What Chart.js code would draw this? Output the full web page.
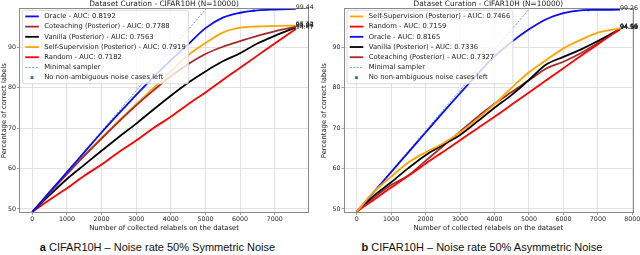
<!DOCTYPE html>
<html>
<head>
<meta charset="utf-8">
<script src="https://cdn.jsdelivr.net/npm/chart.js@4.4.1/dist/chart.umd.min.js"></script>
<style>
  html, body { margin: 0; padding: 0; background: #fff; overflow: hidden; }
  body { width: 640px; height: 255px; position: relative; font-family: "Liberation Sans", Arial, sans-serif; }
  canvas { position: absolute; top: 0; }
  #symChart { left: 0; }
  #asymChart { left: 320px; }
  .caption { position: absolute; top: 242px; font-size: 11px; line-height: 11px; white-space: nowrap; text-align: center; color: #111; }
</style>
</head>
<body>
<canvas id="symChart" width="320" height="235"></canvas>
<canvas id="asymChart" width="322" height="235"></canvas>
<div class="caption" style="left:0;width:315px"><b>a</b> CIFAR10H – Noise rate 50% Symmetric Noise</div>
<div class="caption" style="left:320px;width:324px"><b>b</b> CIFAR10H – Noise rate 50% Asymmetric Noise</div>

<script>
const chartTitle = "Dataset Curation - CIFAR10H (N=10000)";
const xTitle = "Number of collected relabels on the dataset";
const yTitle = "Percentage of correct labels";
const yTicks = [50, 60, 70, 80, 90];

// a) symmetric noise
const symTicks = [0, 1000, 2000, 3000, 4000, 5000, 6000, 7000];
const symX = [0, 500, 1000, 1500, 2000, 2500, 3000, 3500, 4000, 4500, 5000, 5500, 6000, 6500, 7000, 7610];
const symOracle = [49.26, 54.2, 59.1, 64.0, 68.9, 73.6, 78.2, 82.6, 86.8, 90.7, 94.7, 97.3, 98.5, 99.1, 99.3, 99.44];
const symCoteaching = [49.26, 54.0, 58.6, 63.1, 67.4, 71.6, 75.6, 79.3, 82.8, 85.8, 88.3, 90.1, 91.5, 92.8, 93.9, 95.06];
const symVanilla = [49.26, 53.4, 57.4, 60.9, 64.4, 67.8, 71.1, 74.6, 78.0, 81.2, 84.0, 86.5, 88.5, 90.9, 92.8, 94.87];
const symSelfSup = [49.26, 54.0, 58.7, 63.3, 67.6, 71.8, 75.9, 79.9, 84.0, 88.0, 91.0, 93.6, 94.8, 95.1, 95.25, 95.32];
const symRandom = [49.26, 52.3, 55.1, 58.2, 61.0, 64.1, 66.9, 70.0, 72.8, 75.9, 78.8, 81.9, 84.9, 87.9, 90.9, 94.47];
const symMinimalX = [0, 5200];
const symMinimalY = [49.26, 101.26];
const symDoneX = [6390];
const symDoneY = [99.04];

// b) asymmetric noise
const asymTicks = [0, 1000, 2000, 3000, 4000, 5000, 6000, 7000, 8000];
const asymX = [0, 500, 1000, 1500, 2000, 2500, 3000, 3500, 4000, 4500, 5000, 5500, 6000, 6500, 7000, 7643];
const asymSelfSup = [49.35, 54.2, 58.0, 61.5, 64.0, 66.2, 68.9, 72.2, 75.9, 80.0, 83.8, 86.8, 89.7, 91.8, 93.6, 94.66];
const asymRandom = [49.35, 52.3, 55.3, 58.2, 61.2, 64.1, 67.0, 69.9, 72.8, 75.8, 78.8, 81.8, 84.8, 87.8, 90.7, 94.58];
const asymOracle = [49.35, 54.2, 59.1, 64.0, 68.9, 73.8, 78.6, 83.3, 87.7, 91.3, 94.4, 96.9, 98.4, 99.1, 99.2, 99.26];
const asymVanilla = [49.35, 53.3, 56.6, 60.1, 63.3, 65.8, 68.3, 71.6, 75.0, 78.2, 81.9, 85.7, 87.6, 89.4, 91.5, 94.50];
const asymCoteaching = [49.35, 52.8, 55.9, 58.3, 61.9, 65.5, 69.1, 72.7, 76.0, 78.9, 81.8, 84.7, 86.4, 88.5, 91.0, 94.39];
const asymMinimalX = [0, 5200];
const asymMinimalY = [49.35, 101.35];
const asymDoneX = [6720];
const asymDoneY = [99.14];

const FONT = "DejaVu Sans";
Chart.defaults.font.family = FONT;
Chart.defaults.color = "#222";

function points(xs, ys) {
  return xs.map((x, i) => ({ x: x, y: ys[i] }));
}

function curve(label, xs, ys, color) {
  return {
    label: label,
    data: points(xs, ys),
    borderColor: color,
    backgroundColor: color,
    borderWidth: 1.8,
    pointRadius: 0,
    cubicInterpolationMode: "monotone",
    endLabel: true
  };
}

function minimal(xs, ys) {
  return {
    label: "Minimal sampler",
    data: points(xs, ys),
    borderColor: "#5d9fd8",
    borderWidth: 1,
    borderDash: [2, 1.5],
    pointRadius: 0
  };
}

function doneMarker(xs, ys) {
  return {
    label: "No non-ambiguous noise cases left",
    data: points(xs, ys),
    showLine: false,
    pointStyle: "rect",
    pointRadius: 1.6,
    borderWidth: 0,
    backgroundColor: "#2b6fc8",
    marker: true
  };
}

// title, frame, legend box and end-of-line values, drawn like matplotlib
const decor = {
  id: "decor",
  afterDatasetsDraw(chart) {
    const ctx = chart.ctx;
    const a = chart.chartArea;
    ctx.save();

    ctx.strokeStyle = "#8a8a8a";
    ctx.lineWidth = 1;
    ctx.strokeRect(Math.round(a.left) + 0.5, Math.round(a.top) + 0.5,
      Math.round(a.right - a.left) - 1, Math.round(a.bottom - a.top) - 1);

    ctx.fillStyle = "#222";
    ctx.font = "7.4px '" + FONT + "'";
    ctx.textAlign = "center";
    ctx.textBaseline = "alphabetic";
    ctx.fillText(chartTitle, (a.left + a.right) / 2, 6);

    // values at the end of each curve
    ctx.font = "6.3px '" + FONT + "'";
    ctx.textAlign = "left";
    chart.data.datasets.forEach((ds, i) => {
      if (!ds.endLabel) return;
      const pts = chart.getDatasetMeta(i).data;
      const last = pts[pts.length - 1];
      ctx.fillText(ds.data[ds.data.length - 1].y.toFixed(2), last.x, last.y);
    });

    // legend
    const fs = 6.8;
    ctx.font = fs + "px '" + FONT + "'";
    const sets = chart.data.datasets;
    let textW = 0;
    sets.forEach(ds => { textW = Math.max(textW, ctx.measureText(ds.label).width); });
    const pad = 0.4 * fs, handle = 2 * fs, gap = 0.8 * fs, row = 1.5 * fs;
    const bx = a.left + 3.5, by = a.top + 2;
    const bw = pad + handle + gap + textW + pad;
    const bh = pad * 2 + row * sets.length - 0.5 * fs;
    ctx.beginPath();
    ctx.roundRect(bx, by, bw, bh, 2);
    ctx.fillStyle = "rgba(255,255,255,0.8)";
    ctx.fill();
    ctx.strokeStyle = "#d0d0d0";
    ctx.lineWidth = 0.8;
    ctx.stroke();

    ctx.textBaseline = "middle";
    sets.forEach((ds, i) => {
      const cy = by + pad + fs / 2 + i * row;
      const hx = bx + pad;
      if (ds.marker) {
        ctx.fillStyle = ds.backgroundColor;
        ctx.fillRect(hx + handle / 2 - 1.4, cy - 1.4, 2.8, 2.8);
      } else {
        ctx.strokeStyle = ds.borderColor;
        ctx.lineWidth = ds.borderWidth;
        ctx.setLineDash(ds.borderDash || []);
        ctx.beginPath();
        ctx.moveTo(hx, cy);
        ctx.lineTo(hx + handle, cy);
        ctx.stroke();
        ctx.setLineDash([]);
      }
      ctx.fillStyle = "#222";
      ctx.fillText(ds.label, hx + handle + gap, cy);
    });

    ctx.restore();
  }
};

function makeChart(id, datasets, xMin, xMax, xTickVals, yWidth, padRight) {
  return new Chart(document.getElementById(id), {
    type: "line",
    data: { datasets: datasets },
    plugins: [decor],
    options: {
      responsive: false,
      animation: false,
      layout: { padding: { left: 0, right: padRight, top: 8.3, bottom: 0 } },
      plugins: { legend: { display: false }, tooltip: { enabled: false } },
      scales: {
        x: {
          type: "linear",
          min: xMin,
          max: xMax,
          afterBuildTicks: s => { s.ticks = xTickVals.map(v => ({ value: v })); },
          afterFit: s => { s.height = 22; s.paddingLeft = 0; s.paddingRight = 0; },
          ticks: { font: { size: 6.3 }, padding: 1, maxRotation: 0, autoSkip: false, callback: v => String(v) },
          grid: { color: "#dadada", lineWidth: 0.8, tickLength: 2, tickColor: "#8a8a8a" },
          border: { display: false },
          title: { display: true, text: xTitle, font: { size: 6.8 }, color: "#111", padding: { top: 0, bottom: 2.9 } }
        },
        y: {
          min: 49.0,
          max: 99.6,
          afterBuildTicks: s => { s.ticks = yTicks.map(v => ({ value: v })); },
          afterFit: s => { s.width = yWidth; s.paddingTop = 0; s.paddingBottom = 0; },
          ticks: { font: { size: 6.3 }, padding: 1, callback: v => String(v) },
          grid: { color: "#dadada", lineWidth: 0.8, tickLength: 2, tickColor: "#8a8a8a" },
          border: { display: false },
          title: { display: true, text: yTitle, font: { size: 6.8 }, color: "#111", padding: { top: 0, bottom: 0 } }
        }
      }
    }
  });
}

makeChart("symChart", [
  curve("Oracle - AUC: 0.8192", symX, symOracle, "#0a0aff"),
  curve("Coteaching (Posterior) - AUC: 0.7788", symX, symCoteaching, "#a52a2a"),
  curve("Vanilla (Posterior) - AUC: 0.7563", symX, symVanilla, "#000000"),
  curve("Self-Supervision (Posterior) - AUC: 0.7919", symX, symSelfSup, "#ffa500"),
  curve("Random - AUC: 0.7182", symX, symRandom, "#ff0000"),
  minimal(symMinimalX, symMinimalY),
  doneMarker(symDoneX, symDoneY)
], -384, 7990, symTicks, 19, 11);

makeChart("asymChart", [
  curve("Self-Supervision (Posterior) - AUC: 0.7466", asymX, asymSelfSup, "#ffa500"),
  curve("Random - AUC: 0.7159", asymX, asymRandom, "#ff0000"),
  curve("Oracle - AUC: 0.8165", asymX, asymOracle, "#0a0aff"),
  curve("Vanilla (Posterior) - AUC: 0.7336", asymX, asymVanilla, "#000000"),
  curve("Coteaching (Posterior) - AUC: 0.7327", asymX, asymCoteaching, "#a52a2a"),
  minimal(asymMinimalX, asymMinimalY),
  doneMarker(asymDoneX, asymDoneY)
], -382, 8025, asymTicks, 23.5, 8.8);
</script>
</body>
</html>
